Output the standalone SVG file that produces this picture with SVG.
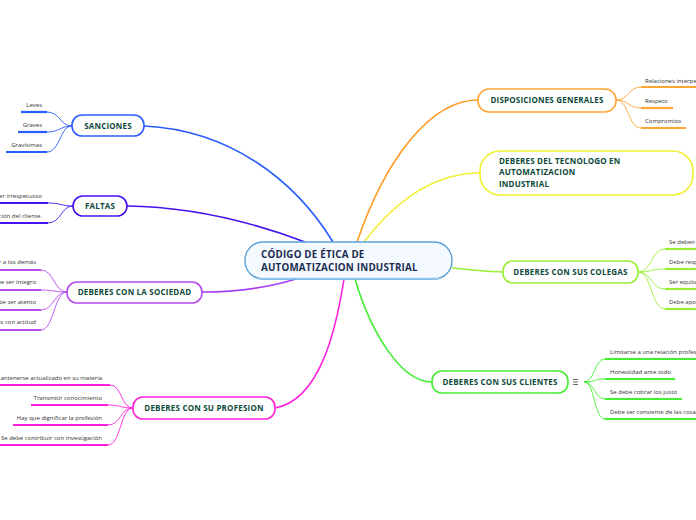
<svg xmlns="http://www.w3.org/2000/svg" width="696" height="520" viewBox="0 0 696 520">
<style>
.node{fill:#ffffff;stroke-width:1.6}
.lbl{font-family:"Open Sans","Liberation Sans",sans-serif;font-size:8px;font-weight:bold;fill:#0e4a3b;letter-spacing:0.2px}
.ct{font-family:"Open Sans","Liberation Sans",sans-serif;font-size:6px;fill:#333333}
.main{fill:none;stroke-width:1.6}
.sub{fill:none;stroke-width:0.9}
.ul{fill:none;stroke-width:2.2}
.cen{font-family:"Open Sans","Liberation Sans",sans-serif;font-size:9.8px;font-weight:bold;fill:#1c2c50;letter-spacing:0.2px}
</style>
<rect width="696" height="520" fill="#ffffff"/>
<g id="connectors">
  <path class="main" stroke="#2a5cff" d="M144 126 C230 130 295 180 333 242"/>
  <path class="main" stroke="#4412ee" d="M127 206 C200 207 260 225 305 242"/>
  <path class="main" stroke="#a83ef5" d="M202 292 C240 292 270 287 296 279"/>
  <path class="main" stroke="#ff22dd" d="M275 408 C320 400 336 330 344 279"/>
  <path class="main" stroke="#44ee33" d="M432 382 C400 382 370 330 355 279"/>
  <path class="main" stroke="#99ee33" d="M452 268 C475 270 490 272 503 272"/>
  <path class="main" stroke="#ff9922" d="M357 242 C385 160 430 100 478 100"/>
  <path class="main" stroke="#f0f030" d="M364 242 C400 195 440 173 480 173"/>
  <g stroke="#2a5cff">
    <path class="sub" d="M47 112 C60 112 60 126 72 126"/>
    <path class="sub" d="M47 132 C60 132 60 126 72 126"/>
    <path class="sub" d="M47 152 C60 152 60 126 72 126"/>
    <path class="ul" d="M21 112 H47"/>
    <path class="ul" d="M18 132 H47"/>
    <path class="ul" d="M6 152 H47"/>
  </g>
  <g stroke="#4412ee">
    <path class="sub" d="M48 203 C61 203 61 206 73 206"/>
    <path class="sub" d="M48 223 C61 223 61 206 73 206"/>
    <path class="ul" d="M0 203 H48"/>
    <path class="ul" d="M0 223 H48"/>
  </g>
  <g stroke="#b44cf0">
    <path class="sub" d="M41 270 C54 270 54 292 67 292"/>
    <path class="sub" d="M41 290 C54 290 54 292 67 292"/>
    <path class="sub" d="M41 310 C54 310 54 292 67 292"/>
    <path class="sub" d="M41 330 C54 330 54 292 67 292"/>
    <path class="ul" d="M0 270 H41"/>
    <path class="ul" d="M0 290 H41"/>
    <path class="ul" d="M0 310 H41"/>
    <path class="ul" d="M0 330 H41"/>
  </g>
  <g stroke="#ff22dd">
    <path class="sub" d="M110 385 C122 385 121 408 133 408"/>
    <path class="sub" d="M108 405 C121 405 120 408 133 408"/>
    <path class="sub" d="M108 425 C121 425 120 408 133 408"/>
    <path class="sub" d="M108 445 C121 445 120 408 133 408"/>
    <path class="ul" d="M0 385 H110"/>
    <path class="ul" d="M31 405 H108"/>
    <path class="ul" d="M13 425 H108"/>
    <path class="ul" d="M0 445 H108"/>
  </g>
  <g stroke="#ffa533">
    <path class="sub" d="M616 100 C629 100 628 87 641 87"/>
    <path class="sub" d="M616 100 C629 100 628 108 641 108"/>
    <path class="sub" d="M616 100 C629 100 628 128 641 128"/>
    <path class="ul" d="M641 87 H696"/>
    <path class="ul" d="M641 108 H673"/>
    <path class="ul" d="M641 128 H686"/>
  </g>
  <g stroke="#99ee33">
    <path class="sub" d="M638 272 C652 272 651 249 665 249"/>
    <path class="sub" d="M638 272 C652 272 651 269 665 269"/>
    <path class="sub" d="M638 272 C652 272 651 289 665 289"/>
    <path class="sub" d="M638 272 C652 272 651 309 665 309"/>
    <path class="ul" d="M665 249 H696"/>
    <path class="ul" d="M665 269 H696"/>
    <path class="ul" d="M665 289 H696"/>
    <path class="ul" d="M665 309 H696"/>
  </g>
  <g stroke="#44ee33">
    <path class="sub" d="M584 382 C595 382 594 359 605 359"/>
    <path class="sub" d="M584 382 C595 382 594 379 605 379"/>
    <path class="sub" d="M584 382 C595 382 594 399 605 399"/>
    <path class="sub" d="M584 382 C595 382 594 419 605 419"/>
    <path class="ul" d="M605 359 H696"/>
    <path class="ul" d="M605 379 H675"/>
    <path class="ul" d="M605 399 H682"/>
    <path class="ul" d="M605 419 H696"/>
  </g>
</g>
<g id="central">
  <rect x="245" y="242" width="207" height="37" rx="18" fill="#f4faff" stroke="#5aa0d8" stroke-width="1.4"/>
  <path d="M258 278.6 H439" stroke="#8ec8f0" stroke-width="1.6" fill="none"/>
  <text class="cen" x="261" y="258">CÓDIGO DE ÉTICA DE</text>
  <text class="cen" x="261" y="271">AUTOMATIZACION INDUSTRIAL</text>
</g>
<g id="sanciones">
  <rect class="node" x="72" y="115" width="72" height="21" rx="10" stroke="#2a5cff"/>
  <text class="lbl" x="108" y="129" text-anchor="middle">SANCIONES</text>
  <text class="ct" x="42" y="107" text-anchor="end">Leves</text>
  <text class="ct" x="42" y="127" text-anchor="end">Graves</text>
  <text class="ct" x="42" y="147" text-anchor="end">Gravísimas</text>
</g>
<g id="faltas">
  <rect class="node" x="73" y="196" width="54" height="20" rx="10" stroke="#4412ee"/>
  <text class="lbl" x="100" y="209" text-anchor="middle">FALTAS</text>
  <text class="ct" x="42" y="198" text-anchor="end">er irrespetuoso</text>
  <text class="ct" x="42" y="218" text-anchor="end">ción del cliente.</text>
</g>
<g id="sociedad">
  <rect class="node" x="67" y="282" width="135" height="21" rx="10" stroke="#b44cf0"/>
  <text class="lbl" x="134.5" y="295" text-anchor="middle">DEBERES CON LA SOCIEDAD</text>
  <text class="ct" x="36" y="264" text-anchor="end">r a los demás</text>
  <text class="ct" x="36" y="284" text-anchor="end">be ser integro</text>
  <text class="ct" x="36" y="304" text-anchor="end">be ser atento</text>
  <text class="ct" x="36" y="324" text-anchor="end">es con actitud</text>
</g>
<g id="profesion">
  <rect class="node" x="133" y="397" width="142" height="22" rx="10" stroke="#ff22dd"/>
  <text class="lbl" x="204" y="411" text-anchor="middle">DEBERES CON SU PROFESION</text>
  <text class="ct" x="102" y="380" text-anchor="end">antenerse actualizado en su materia</text>
  <text class="ct" x="102" y="400" text-anchor="end">Transmitir conocimiento</text>
  <text class="ct" x="102" y="420" text-anchor="end">Hay que dignificar la profesión</text>
  <text class="ct" x="102" y="440" text-anchor="end">Se debe contribuir con investigación</text>
</g>
<g id="disposiciones">
  <rect class="node" x="478" y="89" width="138" height="23" rx="11" stroke="#ffa533"/>
  <text class="lbl" x="547" y="103" text-anchor="middle">DISPOSICIONES GENERALES</text>
  <text class="ct" x="645" y="83">Relaciones interpe</text>
  <text class="ct" x="645" y="103">Respeto</text>
  <text class="ct" x="645" y="123">Compromiso</text>
</g>
<g id="tecnologo">
  <rect class="node" x="480" y="151" width="213" height="44" rx="20" stroke="#f0f030"/>
  <text class="lbl" x="499" y="164">DEBERES DEL TECNOLOGO EN</text>
  <text class="lbl" x="499" y="175">AUTOMATIZACION</text>
  <text class="lbl" x="499" y="187">INDUSTRIAL</text>
</g>
<g id="colegas">
  <rect class="node" x="503" y="261" width="135" height="22" rx="10" stroke="#99ee33"/>
  <text class="lbl" x="570.5" y="275" text-anchor="middle">DEBERES CON SUS COLEGAS</text>
  <text class="ct" x="669" y="244">Se deben</text>
  <text class="ct" x="669" y="264">Debe resp</text>
  <text class="ct" x="669" y="284">Ser equita</text>
  <text class="ct" x="669" y="304">Debe apo</text>
</g>
<g id="clientes">
  <rect class="node" x="432" y="371" width="136" height="22" rx="10" stroke="#44ee33"/>
  <text class="lbl" x="500" y="385" text-anchor="middle">DEBERES CON SUS CLIENTES</text>
  <g stroke="#555" stroke-width="0.9">
    <path d="M573 379.5 H578 M573 382 H578 M573 384.5 H578"/>
  </g>
  <text class="ct" x="610" y="354">Limitarse a una relación profes</text>
  <text class="ct" x="610" y="374">Honestidad ante todo</text>
  <text class="ct" x="610" y="394">Se debe cobrar los justo</text>
  <text class="ct" x="610" y="414">Debe ser consiente de las cosa</text>
</g>
</svg>
